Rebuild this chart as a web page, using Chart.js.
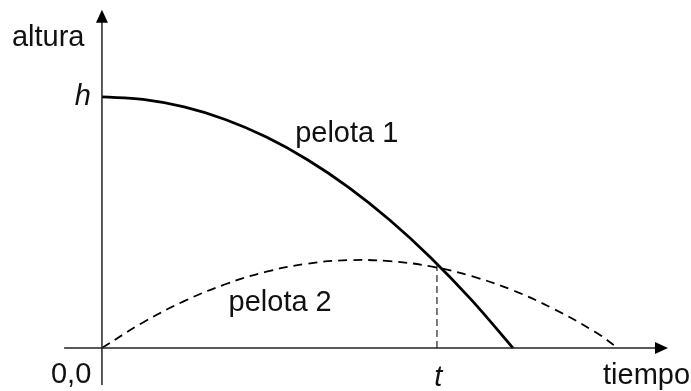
<!DOCTYPE html>
<html>
<head>
<meta charset="utf-8">
<script src="https://cdn.jsdelivr.net/npm/chart.js@4"></script>
<style>
  html, body { margin: 0; padding: 0; background: #fff; }
  #wrap { width: 691px; height: 391px; }
</style>
</head>
<body>
<div id="wrap"><canvas id="chart"></canvas></div>
<script>
/* values (time units, height units; h = 10) */
const tiempo1 = [0, 1, 2, 3, 4, 5, 6, 7, 8, 9, 10];
const pelota1 = [10, 9.9, 9.6, 9.1, 8.4, 7.5, 6.4, 5.1, 3.6, 1.9, 0];

const tiempo2 = [0, 1, 2, 3, 4, 5, 6, 7, 8, 9, 10, 11, 12, 12.55];
const pelota2 = [0, 1.02, 1.87, 2.54, 3.04, 3.36, 3.5, 3.46, 3.25, 2.86, 2.3, 1.55, 0.64, 0];

const encuentroT = 8.15;   // instant t where both balls meet
const encuentroY = 3.3;

const ejeX = [-0.92, 13.77];   // x axis extent
const ejeY = [-1.47, 13.47];   // y axis extent

const etiquetas = [
    { text: "altura",   x: -2.19, y: 12.03, italic: false, align: "left" },
    { text: "h",        x: -0.27, y: 9.68,  italic: true,  align: "right" },
    { text: "0,0",      x: -1.24, y: -1.39, italic: false, align: "left" },
    { text: "t",        x: 8.18,  y: -1.51, italic: true,  align: "center" },
    { text: "tiempo",   x: 12.19, y: -1.43, italic: false, align: "left" },
    { text: "pelota 1", x: 4.70,  y: 8.21,  italic: false, align: "left" },
    { text: "pelota 2", x: 3.08,  y: 1.47,  italic: false, align: "left" }
];

const toPoints = (xs, ys) => xs.map((x, i) => ({ x: x, y: ys[i] }));

/* axes with arrow heads + text labels */
const ejesPlugin = {
    id: "ejes",
    afterDatasetsDraw(chart) {
        const ctx = chart.ctx;
        const sx = chart.scales.x;
        const sy = chart.scales.y;
        const x0 = sx.getPixelForValue(0);
        const y0 = sy.getPixelForValue(0);

        ctx.save();
        ctx.strokeStyle = "#222";
        ctx.fillStyle = "#000";
        ctx.lineWidth = 1.5;

        // x axis
        const xa = sx.getPixelForValue(ejeX[0]);
        const xb = sx.getPixelForValue(ejeX[1]);
        ctx.beginPath();
        ctx.moveTo(xa, y0);
        ctx.lineTo(xb - 10, y0);
        ctx.stroke();
        ctx.beginPath();
        ctx.moveTo(xb, y0);
        ctx.lineTo(xb - 13, y0 - 6);
        ctx.lineTo(xb - 13, y0 + 6);
        ctx.closePath();
        ctx.fill();

        // y axis
        const ya = sy.getPixelForValue(ejeY[0]);
        const yb = sy.getPixelForValue(ejeY[1]);
        ctx.beginPath();
        ctx.moveTo(x0, ya);
        ctx.lineTo(x0, yb + 10);
        ctx.stroke();
        ctx.beginPath();
        ctx.moveTo(x0, yb);
        ctx.lineTo(x0 - 6, yb + 13);
        ctx.lineTo(x0 + 6, yb + 13);
        ctx.closePath();
        ctx.fill();

        // labels
        ctx.textBaseline = "alphabetic";
        ctx.fillStyle = "#111";
        etiquetas.forEach(l => {
            ctx.font = (l.italic ? "italic " : "") + "29px 'Liberation Sans', Arial, sans-serif";
            ctx.textAlign = l.align;
            ctx.fillText(l.text, sx.getPixelForValue(l.x), sy.getPixelForValue(l.y));
        });
        ctx.restore();
    }
};

new Chart(document.getElementById("chart"), {
    type: "line",
    data: {
        datasets: [
            {
                label: "pelota 1",
                data: toPoints(tiempo1, pelota1),
                borderColor: "#000",
                borderWidth: 2.8,
                pointRadius: 0,
                tension: 0.4
            },
            {
                label: "pelota 2",
                data: toPoints(tiempo2, pelota2),
                borderColor: "#000",
                borderWidth: 1.8,
                borderDash: [9, 6],
                pointRadius: 0,
                tension: 0.4
            },
            {
                label: "t",
                data: [{ x: encuentroT, y: 0 }, { x: encuentroT, y: encuentroY }],
                borderColor: "#222",
                borderWidth: 1.2,
                borderDash: [7, 4],
                pointRadius: 0
            }
        ]
    },
    options: {
        responsive: true,
        maintainAspectRatio: false,
        animation: false,
        layout: { padding: 0 },
        plugins: {
            legend: { display: false },
            tooltip: { enabled: false }
        },
        scales: {
            x: { type: "linear", display: false, min: -2.48, max: 14.33 },
            y: { type: "linear", display: false, min: -1.71, max: 13.86 }
        }
    },
    plugins: [ejesPlugin]
});
</script>
</body>
</html>
